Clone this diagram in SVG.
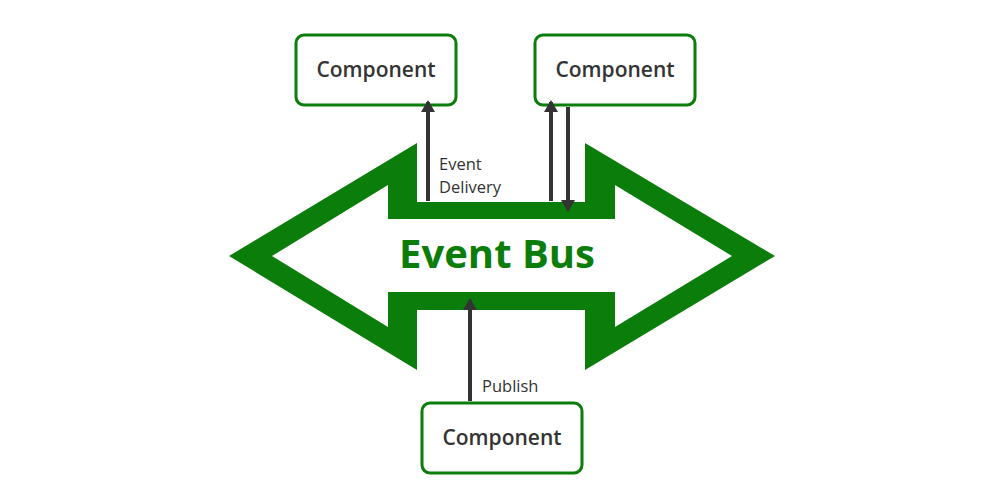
<svg xmlns="http://www.w3.org/2000/svg" width="1000" height="500" viewBox="0 0 1000 500">
<style>
.box{fill:#fff;stroke:#0b7d0b;stroke-width:3}
.bt{font-family:'Open Sans','Liberation Sans',sans-serif;font-size:21px;font-weight:600;fill:#333;text-anchor:middle}
.lb{font-family:'Open Sans','Liberation Sans',sans-serif;font-size:16.5px;fill:#333}
.ln{stroke:#333;stroke-width:4;fill:none;marker-end:url(#ah)}
</style>
<defs><marker id="ah" markerWidth="12" markerHeight="14" refX="10" refY="7" orient="auto" markerUnits="userSpaceOnUse"><path d="M0,0L12,7L0,14z" fill="#333"/></marker></defs>
<g id="bus">
<path fill="#0b7d0b" fill-rule="evenodd" d="M229,256L417,143L417,202L585,202L585,143L775,256L585,370L585,310L417,310L417,370Z M272,256L388,327L388,292L615,292L615,327L732,256L615,185L615,219L388,219L388,185Z"/>
<text x="497" y="268" font-family="'Open Sans','Liberation Sans',sans-serif" font-size="40" font-weight="bold" fill="#0b7d0b" text-anchor="middle">Event Bus</text>
</g>
<g id="c1"><rect class="box" x="296" y="35" width="160" height="70" rx="8"/><text class="bt" x="376" y="77">Component</text></g>
<g id="c2"><rect class="box" x="535" y="35" width="160" height="70" rx="8"/><text class="bt" x="615" y="77">Component</text></g>
<g id="c3"><rect class="box" x="422" y="403" width="160" height="70" rx="8"/><text class="bt" x="502" y="445">Component</text></g>
<g id="connectors">
<line class="ln" x1="428" y1="201" x2="428" y2="102"/>
<line class="ln" x1="551" y1="201" x2="551" y2="102"/>
<line class="ln" x1="568" y1="107" x2="568" y2="210"/>
<line class="ln" x1="470" y1="401" x2="470" y2="300"/>
<text class="lb" x="439" y="170">Event</text>
<text class="lb" x="439" y="193">Delivery</text>
<text class="lb" x="482" y="392">Publish</text>
</g>
</svg>
